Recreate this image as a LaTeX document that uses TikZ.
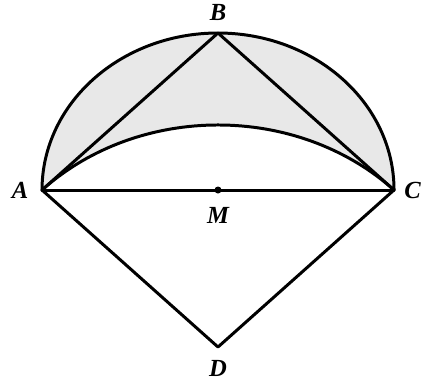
\documentclass[tikz,border=0pt]{standalone}
\usepackage{fontspec}
\setmainfont{Liberation Serif}
\usetikzlibrary{positioning}

\begin{document}
\begin{tikzpicture}[xscale=3.52, yscale=3.14, line width=1.7pt, line cap=round, line join=round]
  \def\r{1}            % radius of the semicircle
  \def\rr{sqrt(2)}     % radius of the arc about D

  \tikzset{
    ptlabel/.style={font=\fontsize{14}{16}\selectfont\bfseries\itshape, inner sep=1pt},
    dot/.style={circle, fill=black, inner sep=0pt, minimum size=4pt}
  }

  \useasboundingbox (-1.2386,-1.2548) rectangle (1.1534,1.2102);

  % points
  \coordinate[label={[ptlabel, label distance=6pt]left:A}] (A) at (-\r,0);
  \coordinate[label={[ptlabel, label distance=4pt]right:C}] (C) at (\r,0);
  \coordinate[label={[ptlabel, label distance=5pt]above:B}] (B) at (0,\r);
  \coordinate[label={[ptlabel, label distance=6pt]below:D}] (D) at (0,-\r);

  % shaded lune
  \fill[black!9] (A) arc[start angle=180, end angle=0, radius=\r]
    arc[start angle=45, end angle=135, radius=\rr];

  % semicircle and arc about D
  \draw (A) arc[start angle=180, end angle=0, radius=\r];
  \draw (A) arc[start angle=135, end angle=45, radius=\rr];

  % straight sides
  \draw (A) -- (C);
  \draw (A) -- (B) -- (C);
  \draw (A) -- (D) -- (C);

  % midpoint
  \node[dot, label={[ptlabel, label distance=5pt]below:M}] (M) at (0,0) {};
\end{tikzpicture}
\end{document}
